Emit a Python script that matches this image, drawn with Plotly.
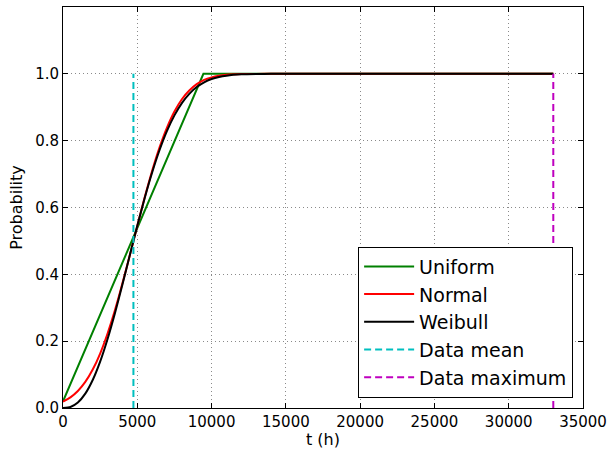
import plotly.graph_objects as go

# ---- data ----
x_uniform = [0, 9450, 33000]
y_uniform = [0.02, 1.0, 1.0]

x_curve = [0, 500, 1000, 1500, 2000, 2500, 3000, 3500, 4000, 4500, 5000, 5500,
           6000, 6500, 7000, 7500, 8000, 8500, 9000, 9500, 10000, 10500, 11000,
           12000, 13000, 14000, 33000]
y_normal = [0.019, 0.032, 0.051, 0.078, 0.115, 0.163, 0.223, 0.293, 0.373, 0.458,
            0.545, 0.631, 0.710, 0.780, 0.839, 0.887, 0.924, 0.950, 0.969, 0.982,
            0.9895, 0.9942, 0.9970, 0.9993, 0.9998, 1.0, 1.0]
y_weibull = [0.0, 0.0031, 0.0164, 0.0429, 0.0837, 0.1387, 0.2065, 0.2845, 0.3695,
             0.4577, 0.5452, 0.6286, 0.7049, 0.7721, 0.8292, 0.8757, 0.9124, 0.9402,
             0.9604, 0.9747, 0.9844, 0.9907, 0.9946, 0.9984, 0.9996, 1.0, 1.0]

data_mean = 4740
data_max = 33000
vline_y = [0, 1.0]

x_ticks = [0, 5000, 10000, 15000, 20000, 25000, 30000, 35000]
y_ticks = [0.0, 0.2, 0.4, 0.6, 0.8, 1.0]

FONT = "DejaVu Sans"

fig = go.Figure()
fig.add_trace(go.Scatter(x=x_uniform, y=y_uniform, mode="lines", name="Uniform",
                         line=dict(color="#008000", width=2)))
fig.add_trace(go.Scatter(x=x_curve, y=y_normal, mode="lines", name="Normal",
                         line=dict(color="#ff0000", width=2, shape="spline", smoothing=0.5)))
fig.add_trace(go.Scatter(x=x_curve, y=y_weibull, mode="lines", name="Weibull",
                         line=dict(color="#000000", width=2, shape="spline", smoothing=0.5)))
fig.add_trace(go.Scatter(x=[data_mean, data_mean], y=vline_y, mode="lines", name="Data mean",
                         line=dict(color="#00bfbf", width=2, dash="7px,4px")))
fig.add_trace(go.Scatter(x=[data_max, data_max], y=vline_y, mode="lines", name="Data maximum",
                         line=dict(color="#bf00bf", width=2, dash="7px,4px")))

axis_common = dict(
    showline=True, linecolor="black", linewidth=1, mirror="ticks",
    ticks="inside", ticklen=5, tickcolor="black", tickwidth=1,
    showgrid=True, gridcolor="#8a8a8a", gridwidth=1, griddash="1px,3px",
    zeroline=False, automargin=False,
    tickfont=dict(family=FONT, size=15, color="black"),
)

fig.update_xaxes(range=[0, 35000], tickvals=x_ticks, ticktext=[str(v) for v in x_ticks],
                 title=dict(text="t (h)", font=dict(family=FONT, size=16, color="black"), standoff=4),
                 **axis_common)
fig.update_yaxes(range=[0, 1.2], tickvals=y_ticks, ticktext=[f"{v:.1f}" for v in y_ticks],
                 title=dict(text="Probability", font=dict(family=FONT, size=16, color="black"), standoff=8),
                 **axis_common)

fig.update_layout(
    width=609, height=449,
    margin=dict(l=63, r=26, t=7, b=41),
    plot_bgcolor="white", paper_bgcolor="white",
    font=dict(family=FONT, color="black"),
    legend=dict(x=0.981, y=0.026, xanchor="right", yanchor="bottom",
                bgcolor="white", bordercolor="black", borderwidth=1,
                font=dict(family=FONT, size=19, color="black"),
                itemwidth=50, tracegroupgap=0),
)

fig.write_html("out.html")
